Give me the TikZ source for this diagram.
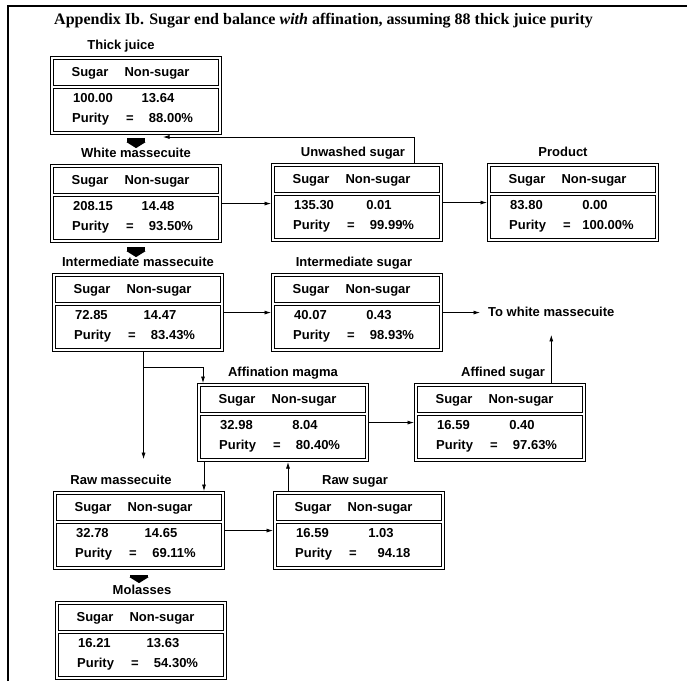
\documentclass[tikz,border=0pt]{standalone}
\usepackage{fontspec}
\setmainfont{Liberation Serif}
\setsansfont{Liberation Sans}
\usetikzlibrary{%
  arrows.meta%
}
\tikzset{>={Latex[length=6.5pt,width=4pt]},%
  box/.style={draw,line width=1.1pt,minimum width=171pt,minimum height=78pt,
    inner sep=0pt,anchor=north west},%
  inbox/.style={line width=0.9pt},%
  txt/.style={inner sep=0pt,text height=9.4pt,text depth=0pt,
    font=\sffamily\bfseries\fontsize{13}{15}\selectfont},%
  link/.style={->,line width=0.7pt},%
  blk/.style={line width=18pt,-{Triangle[length=6pt,width=19pt]}}}

\begin{document}
\begin{tikzpicture}[x=1pt,y=-1pt]
    \useasboundingbox (0,0) rectangle (687,681);
    \draw[line width=1.6pt] (8,681) -- (8,6) -- (687,6);
    \node[anchor=west,inner sep=0pt,font=\bfseries\fontsize{16}{18}\selectfont]
    (head) at (54,21) {Appendix Ib. Sugar end balance \textit{with} affination,
      assuming 88 thick juice purity};
    % boxes: name/left/top/title x/title/sugar/non-sugar/purity
    \foreach \n/\bx/\by/\tx/\tl/\sa/\na/\pu in {%
      tj/50/56/121/Thick juice/100.00/13.64/88.00\%,
      wm/50/164/136/White massecuite/208.15/14.48/93.50\%,
      uw/271/163/353/Unwashed sugar/135.30/0.01/99.99\%,
      pr/487/163/563/Product/83.80/0.00/100.00\%,
      im/52/273/138/Intermediate massecuite/72.85/14.47/83.43\%,
      is/271/273/354/Intermediate sugar/40.07/0.43/98.93\%,
      am/197/383/283/Affination magma/32.98/8.04/80.40\%,
      af/414/383/503/Affined sugar/16.59/0.40/97.63\%,
      rm/53/491/121/Raw massecuite/32.78/14.65/69.11\%,
      rs/273/491/355/Raw sugar/16.59/1.03/94.18,
      ml/55/601/142/Molasses/16.21/13.63/54.30\%} {
      \node[box] (\n) at (\bx,\by) {};
      \draw[inbox] ([shift={(3.5,3.5)}]\n.north west) rectangle
      ([shift={(-3.5,29)}]\n.north east);
      \draw[inbox] ([shift={(3.5,32)}]\n.north west) rectangle
      ([shift={(-3.5,-3.5)}]\n.south east);
      \node[txt] (\n-t) at (\tx,\by-11) {\tl};
      \node[txt] (\n-s) at ([shift={(40,15.5)}]\n.north west) {Sugar};
      \node[txt] (\n-n) at ([shift={(107,15.5)}]\n.north west) {Non-sugar};
      \node[txt,anchor=west] (\n-a) at ([shift={(23,41.5)}]\n.north west) {\sa};
      \node[txt] (\n-b) at ([shift={(108,41.5)}]\n.north west) {\na};
      \node[txt,anchor=west] (\n-p) at ([shift={(22,61.5)}]\n.north west) {Purity};
      \node[txt] (\n-e) at ([shift={(80,61.5)}]\n.north west) {=};
      \node[txt] (\n-q) at ([shift={(121,61.5)}]\n.north west) {\pu};
    }
    \node[txt,anchor=west] (tw) at (488,312) {To white massecuite};
    \coordinate (fb) at (163,137);
    % block arrows down the left column
    \draw[blk,shorten <=3pt] (tj.south) -- (tj.south |- wm-t.north);
    \draw[blk,shorten <=4pt] (wm.south) -- (wm.south |- im-t.north);
    \draw[blk,shorten <=5pt,shorten >=2pt] (rm.south) -- (rm.south |- ml-t.north);
    % flows
    \draw[link] (wm.east) -- (wm.east -| uw.west);
    \draw[link] (uw.east) -- (uw.east -| pr.west);
    \draw[link] ([xshift=57pt]uw.north) |- (fb);
    \draw[link] (im.east) -- (im.east -| is.west);
    \draw[link,shorten >=8pt] (is.east) -- (is.east -| tw.west);
    \draw[link,shorten >=18pt] (af.north -| tw.south) -- (tw.south);
    \draw[link] (am.east) -- (am.east -| af.west);
    \draw[link] (rm.east) -- (rm.east -| rs.west);
    \draw[link,shorten >=16pt] ([xshift=5.5pt]im.south) --
    ([xshift=5.5pt]im.south |- rm-t.north);
    \draw[link] ([xshift=5.5pt,yshift=-15pt]im.south) -|
    ([xshift=6pt]am.north west);
    \draw[link] ([xshift=7pt]am.south west) --
    ([xshift=7pt]am.south west |- rm.north);
    \draw[link] ([xshift=15pt]rs.north west) --
    ([xshift=15pt]rs.north west |- am.south);
  \end{tikzpicture}
\end{document}
